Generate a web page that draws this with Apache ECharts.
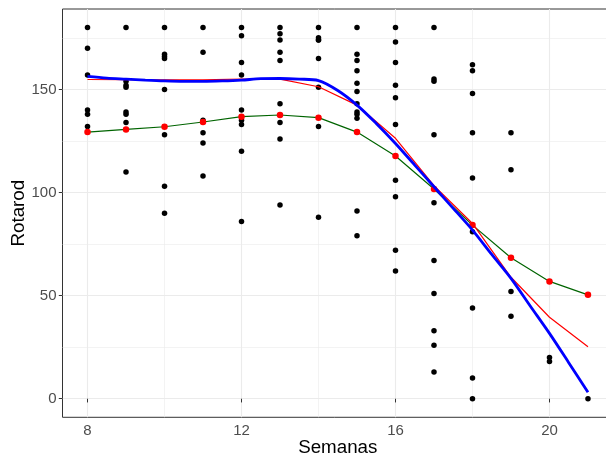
<!DOCTYPE html>
<html>
<head>
<meta charset="utf-8">
<script src="https://cdn.jsdelivr.net/npm/echarts@6/dist/echarts.min.js"></script>
<style>html,body{margin:0;padding:0;background:#fff}#c{width:606px;height:456px}</style>
</head>
<body>
<div id="c"></div>
<script>
// Observed values per week (black points)
const weeks = [8, 9, 10, 11, 12, 13, 14, 15, 16, 17, 18, 19, 20, 21];
const observed = [
  [180, 170, 157, 140, 138, 132],
  [180, 154, 152, 151, 139, 138, 134, 110],
  [180, 167, 166, 165, 150, 128, 103, 90],
  [180, 168, 135, 129, 124, 108],
  [180, 176, 163, 157, 140, 135, 133, 120, 86],
  [180, 177, 174, 168, 164, 143, 134, 126, 94],
  [180, 175, 174, 174, 165, 151, 132, 88],
  [180, 167, 164, 159, 153, 149, 143, 139, 138, 136, 91, 79],
  [180, 173, 163, 152, 146, 133, 106, 98, 72, 62],
  [180, 155, 154, 128, 95, 67, 51, 33, 26, 13],
  [162, 159, 148, 129, 107, 81, 44, 10, 0],
  [129, 111, 52, 40],
  [20, 18],
  [0]
];
// Weekly means (green line, red points)
const means = [129.3, 130.6, 131.9, 134.2, 136.8, 137.6, 136.3, 129.3, 117.7, 101.7, 84.2, 68.4, 56.9, 50.4];
// Red fitted line
const redFit = [154.8, 154.7, 154.6, 154.7, 155.0, 155.0, 151.3, 142.4, 126.3, 103.3, 85.0, 58.9, 39.5, 25.2];
// Blue smooth curve
const blueX = [8, 8.5, 9, 9.5, 10, 10.5, 11, 11.5, 12, 12.5, 13, 13.5, 14, 14.5, 15, 15.5, 16, 16.5, 17, 17.5, 18, 18.5, 19, 19.5, 20, 20.5, 21];
const blueY = [156.3, 155.5, 155.0, 154.5, 154.1, 153.9, 153.9, 154.1, 154.5, 155.2, 155.3, 155.0, 154.3, 149.5, 142.4, 133.5, 123.8, 113.3, 102.8, 92.3, 81.8, 70.0, 58.4, 45.0, 31.7, 17.5, 3.1];
// Axis ticks / gridlines
const xMajor = [8, 12, 16, 20];
const xMinor = [10, 14, 18];
const yMajor = [0, 50, 100, 150];
const yMinor = [25, 75, 125, 175];

const scatterData = [];
weeks.forEach((w, i) => observed[i].forEach(v => scatterData.push([w, v])));
const meanData = weeks.map((w, i) => [w, means[i]]);
const redData = weeks.map((w, i) => [w, redFit[i]]);
const blueData = blueX.map((x, i) => [x, blueY[i]]);

const font = 'Liberation Sans, Arial, sans-serif';
const gridLines = [];
xMajor.forEach(v => gridLines.push({xAxis: v, lineStyle: {type: 'solid', width: 1.1, color: '#EBEBEB'}}));
xMinor.forEach(v => gridLines.push({xAxis: v, lineStyle: {type: 'solid', width: 0.6, color: '#EBEBEB'}}));
yMajor.forEach(v => gridLines.push({yAxis: v, lineStyle: {type: 'solid', width: 1.1, color: '#EBEBEB'}}));
yMinor.forEach(v => gridLines.push({yAxis: v, lineStyle: {type: 'solid', width: 0.6, color: '#EBEBEB'}}));

const chart = echarts.init(document.getElementById('c'), null, {renderer: 'canvas'});
chart.setOption({
  animation: false,
  backgroundColor: '#ffffff',
  grid: {left: 62.5, top: 9, right: -7, bottom: 38.7, show: true, borderColor: '#333333', borderWidth: 1, backgroundColor: 'transparent', containLabel: false, outerBoundsMode: 'none'},
  xAxis: {
    type: 'value', min: 7.35, max: 21.65,
    name: 'Semanas', nameLocation: 'middle', nameGap: 21, nameMoveOverlap: false,
    nameTextStyle: {fontFamily: font, fontSize: 18.75, color: '#000'},
    axisLine: {show: false},
    axisTick: {show: true, length: 3.7, customValues: xMajor, lineStyle: {color: '#333333', width: 1}},
    axisLabel: {customValues: xMajor, fontFamily: font, fontSize: 15, color: '#4D4D4D', margin: 6},
    splitLine: {show: false}
  },
  yAxis: {
    type: 'value', min: -9, max: 189,
    name: 'Rotarod', nameLocation: 'middle', nameGap: 34, nameMoveOverlap: false,
    nameTextStyle: {fontFamily: font, fontSize: 18.75, color: '#000'},
    axisLine: {show: false},
    axisTick: {show: true, length: 3.7, customValues: yMajor, lineStyle: {color: '#333333', width: 1}},
    axisLabel: {customValues: yMajor, fontFamily: font, fontSize: 15, color: '#4D4D4D', margin: 6},
    splitLine: {show: false}
  },
  series: [
    {type: 'scatter', data: [], z: 0, silent: true,
     markLine: {z: 0, silent: true, symbol: ['none', 'none'], label: {show: false}, emphasis: {disabled: true}, animation: false, lineStyle: {type: 'solid'}, data: gridLines}},
    {type: 'scatter', data: scatterData, symbol: 'circle', symbolSize: 5.5, itemStyle: {color: '#000000', borderWidth: 0, opacity: 1}, z: 3, silent: true},
    {type: 'line', data: meanData, symbol: 'circle', symbolSize: 6.5, showSymbol: true,
     lineStyle: {color: '#006400', width: 1.2}, itemStyle: {color: '#FF0000', borderWidth: 0}, z: 4, silent: true},
    {type: 'line', data: redData, symbol: 'none', lineStyle: {color: '#FF0000', width: 1.2}, z: 5, silent: true},
    {type: 'line', data: blueData, symbol: 'none', smooth: 0.3, lineStyle: {color: '#0000FF', width: 2.8}, z: 6, silent: true}
  ]
});
</script>
</body>
</html>
